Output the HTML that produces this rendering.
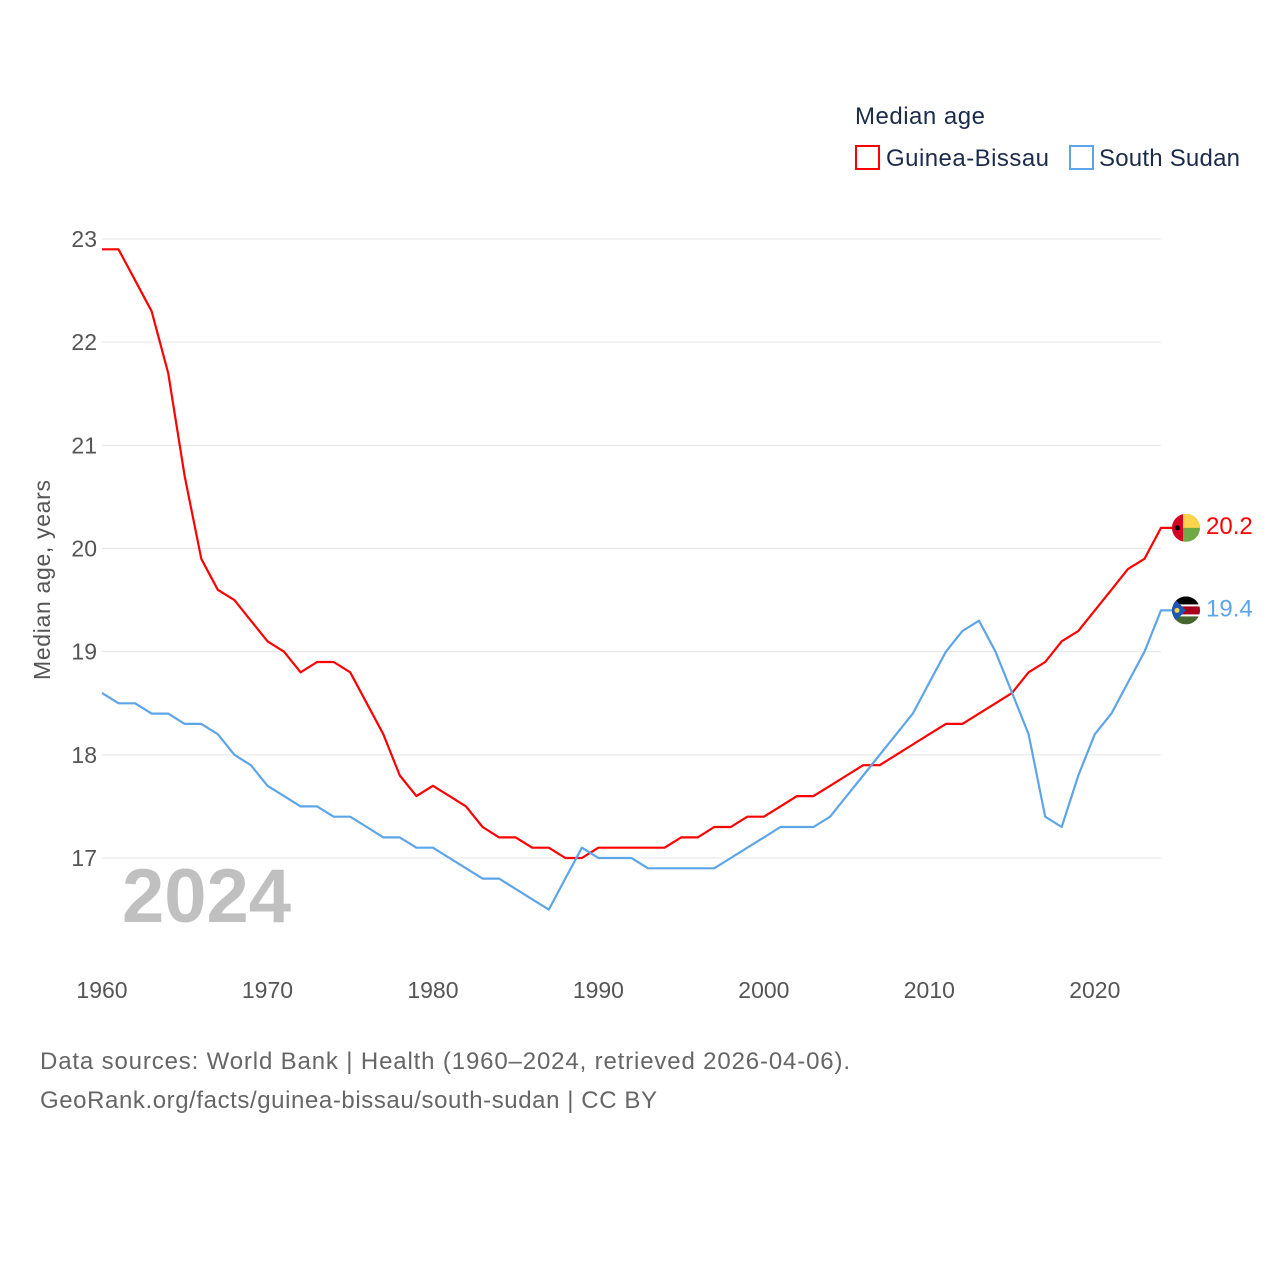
<!DOCTYPE html>
<html><head><meta charset="utf-8"><style>
body{margin:0;background:#fff;}
svg text{font-family:"Liberation Sans",sans-serif;}
</style></head><body>
<svg width="1280" height="1280" viewBox="0 0 1280 1280" xmlns="http://www.w3.org/2000/svg">
<rect width="1280" height="1280" fill="#fff"/>
<g id="grid"></g>
<g id="ylabels"></g>
<g id="xlabels"></g>
<text x="50" y="580" transform="rotate(-90 50 580)" text-anchor="middle" font-size="23" fill="#555" textLength="200">Median age, years</text>
<text x="122" y="922" font-size="76" font-weight="bold" fill="#c0c0c0">2024</text>
<g id="series"></g>
<g>
<text x="855" y="124" font-size="24" fill="#1b2b4b" textLength="130">Median age</text>
<g>
<rect x="856" y="146" width="23" height="23" fill="none" stroke="#f00" stroke-width="2"/>
<text x="886" y="166" font-size="24" fill="#1b2b4b" textLength="163">Guinea-Bissau</text></g>
<g>
<rect x="1070" y="146" width="23" height="23" fill="none" stroke="#5da5e8" stroke-width="2"/>
<text x="1099" y="166" font-size="24" fill="#1b2b4b" textLength="141">South Sudan</text></g>
</g>
<text x="40" y="1069" font-size="24" fill="#666" textLength="810">Data sources: World Bank | Health (1960–2024, retrieved 2026-04-06).</text>
<text x="40" y="1108" font-size="24" fill="#666" textLength="617">GeoRank.org/facts/guinea-bissau/south-sudan | CC BY</text>
</svg>
<script>
const years = [];
for (let y = 1960; y <= 2024; y++) years.push(y);
const guineaBissau = [22.9,22.9,22.6,22.3,21.7,20.7,19.9,19.6,19.5,19.3,19.1,19.0,18.8,18.9,18.9,18.8,18.5,18.2,17.8,17.6,17.7,17.6,17.5,17.3,17.2,17.2,17.1,17.1,17.0,17.0,17.1,17.1,17.1,17.1,17.1,17.2,17.2,17.3,17.3,17.4,17.4,17.5,17.6,17.6,17.7,17.8,17.9,17.9,18.0,18.1,18.2,18.3,18.3,18.4,18.5,18.6,18.8,18.9,19.1,19.2,19.4,19.6,19.8,19.9,20.2];
const southSudan = [18.6,18.5,18.5,18.4,18.4,18.3,18.3,18.2,18.0,17.9,17.7,17.6,17.5,17.5,17.4,17.4,17.3,17.2,17.2,17.1,17.1,17.0,16.9,16.8,16.8,16.7,16.6,16.5,16.8,17.1,17.0,17.0,17.0,16.9,16.9,16.9,16.9,16.9,17.0,17.1,17.2,17.3,17.3,17.3,17.4,17.6,17.8,18.0,18.2,18.4,18.7,19.0,19.2,19.3,19.0,18.6,18.2,17.4,17.3,17.8,18.2,18.4,18.7,19.0,19.4];
const yTicks = [17,18,19,20,21,22,23];
const xTicks = [1960,1970,1980,1990,2000,2010,2020];
const NS = "http://www.w3.org/2000/svg";
const xS = v => 102 + (v - 1960) * (1161 - 102) / 64;
const yS = v => 858 - (v - 17) * (858 - 239) / 6;
function mk(tag, attrs, parent) { const e = document.createElementNS(NS, tag); for (const k in attrs) e.setAttribute(k, attrs[k]); parent.appendChild(e); return e; }
const grid = document.getElementById('grid'), yl = document.getElementById('ylabels'), xl = document.getElementById('xlabels'), ser = document.getElementById('series');
yTicks.forEach(t => {
  const l = mk('line', {x1: 102, x2: 1161, y1: yS(t), y2: yS(t), stroke: '#e6e6e6', 'stroke-width': 1}, grid);
  
  
  const tx = mk('text', {x: 97, y: yS(t) + 8, 'text-anchor': 'end', 'font-size': 23, fill: '#555'}, yl);
  tx.textContent = t;
  
  
});
xTicks.forEach(t => {
  const tx = mk('text', {x: xS(t), y: 998, 'text-anchor': 'middle', 'font-size': 23, fill: '#555'}, xl);
  tx.textContent = t;
  
  
});
function drawSeries(vals, color, name, label) {
  const pts = vals.map((v, i) => xS(years[i]).toFixed(1) + ',' + yS(v).toFixed(1));
  const last = vals[vals.length - 1], ly = yS(last);
  const p = mk('polyline', {points: pts.join(' ') + ' 1174,' + ly.toFixed(1), fill: 'none', stroke: color, 'stroke-width': 2.2, 'stroke-linejoin': 'round'}, ser);
  
  
  const t = mk('text', {x: 1206, y: ly + 6, 'font-size': 24, fill: color}, ser);
  t.textContent = label(last);
  
  
  return ly;
}
const gy = drawSeries(guineaBissau, '#f00', 'guinea-bissau', v => v.toFixed(1));
const sy = drawSeries(southSudan, '#5da5e8', 'south-sudan', v => v.toFixed(1));
function flag(cy, name, parts) {
  const g = mk('g', {}, ser);
  
  
  const id = 'c' + name;
  const cp = mk('clipPath', {id: id}, g); mk('circle', {cx: 1186, cy: cy, r: 14}, cp);
  const inner = mk('g', {'clip-path': 'url(#' + id + ')'}, g);
  parts(inner, cy);
}
flag(gy, 'guinea-bissau', (g, cy) => {
  mk('rect', {x: 1172, y: cy - 14, width: 28, height: 28, fill: '#70a844'}, g);
  mk('rect', {x: 1172, y: cy - 14, width: 28, height: 14, fill: '#fcd34a'}, g);
  mk('rect', {x: 1172, y: cy - 14, width: 11, height: 28, fill: '#d6002b'}, g);
  mk('circle', {cx: 1177.5, cy: cy, r: 2.5, fill: '#000'}, g);
});
flag(sy, 'south-sudan', (g, cy) => {
  mk('rect', {x: 1172, y: cy - 14, width: 28, height: 28, fill: '#fff'}, g);
  mk('rect', {x: 1172, y: cy - 14, width: 28, height: 8, fill: '#000'}, g);
  mk('rect', {x: 1172, y: cy - 4, width: 28, height: 8, fill: '#a6001e'}, g);
  mk('rect', {x: 1172, y: cy + 6, width: 28, height: 8, fill: '#45672f'}, g);
  mk('polygon', {points: '1172,' + (cy - 14) + ' 1186,' + cy + ' 1172,' + (cy + 14), fill: '#1b57b5'}, g);
  mk('circle', {cx: 1177, cy: cy, r: 2.5, fill: '#fcd34a'}, g);
});
</script>
</body></html>
